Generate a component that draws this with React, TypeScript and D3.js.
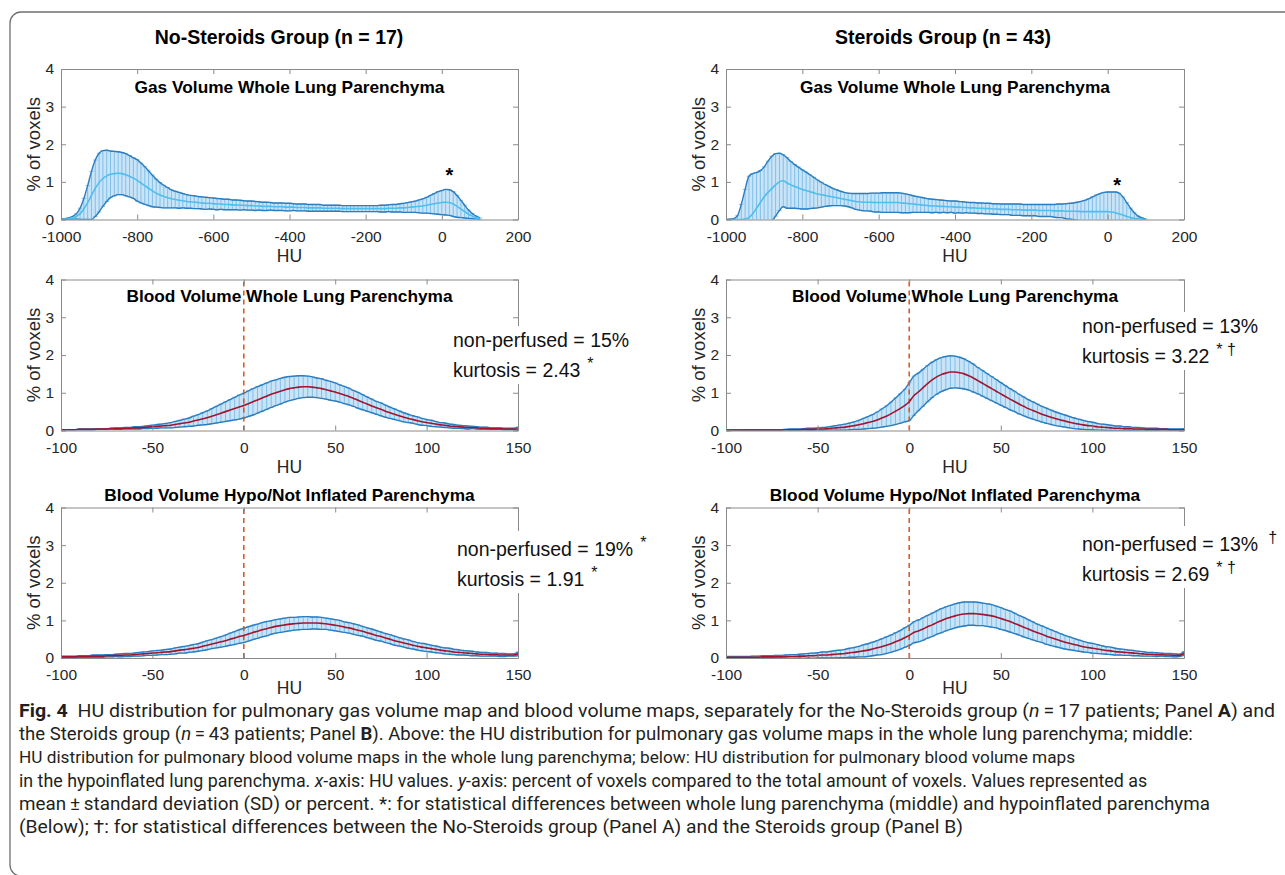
import React, { useRef, useEffect } from 'react'
import * as d3 from 'd3'

// HU sample grids
const gasHU = d3.range(-1000, 101, 10)
const bloodHU = d3.range(-100, 150.1, 2.5)

// gas volume, whole lung (mean and SD, % of voxels)
const gasMeanA = [
  0.0, 0.01, 0.02, 0.04, 0.08, 0.15, 0.28, 0.45, 0.64, 0.83,
  0.98, 1.09, 1.16, 1.2, 1.22, 1.23, 1.22, 1.19, 1.15, 1.1,
  1.04, 0.97, 0.9, 0.83, 0.76, 0.7, 0.65, 0.61, 0.58, 0.55,
  0.53, 0.51, 0.5, 0.48, 0.47, 0.46, 0.45, 0.44, 0.43, 0.43,
  0.42, 0.41, 0.41, 0.4, 0.4, 0.39, 0.39, 0.38, 0.38, 0.37,
  0.37, 0.36, 0.36, 0.35, 0.35, 0.35, 0.34, 0.34, 0.34, 0.33,
  0.33, 0.33, 0.32, 0.32, 0.32, 0.31, 0.31, 0.31, 0.31, 0.3,
  0.3, 0.3, 0.3, 0.3, 0.29, 0.29, 0.29, 0.29, 0.29, 0.29,
  0.29, 0.29, 0.29, 0.29, 0.29, 0.29, 0.3, 0.3, 0.3, 0.31,
  0.31, 0.32, 0.33, 0.34, 0.35, 0.36, 0.38, 0.4, 0.42, 0.44,
  0.45, 0.46, 0.45, 0.41, 0.35, 0.28, 0.21, 0.14, 0.09, 0.05, 0.02,
]
const gasSdA = [
  0.0, 0.01, 0.02, 0.04, 0.07, 0.15, 0.28, 0.45, 0.64, 0.75,
  0.78, 0.74, 0.68, 0.62, 0.59, 0.57, 0.56, 0.56, 0.55, 0.54,
  0.55, 0.53, 0.5, 0.46, 0.42, 0.37, 0.33, 0.3, 0.27, 0.24,
  0.22, 0.21, 0.19, 0.18, 0.17, 0.17, 0.16, 0.16, 0.16, 0.15,
  0.15, 0.15, 0.14, 0.14, 0.14, 0.13, 0.13, 0.13, 0.12, 0.12,
  0.12, 0.12, 0.11, 0.11, 0.11, 0.1, 0.1, 0.1, 0.1, 0.1,
  0.1, 0.09, 0.09, 0.09, 0.09, 0.09, 0.09, 0.09, 0.09, 0.08,
  0.08, 0.08, 0.08, 0.08, 0.08, 0.08, 0.08, 0.08, 0.08, 0.08,
  0.08, 0.08, 0.08, 0.08, 0.09, 0.09, 0.09, 0.1, 0.1, 0.11,
  0.12, 0.13, 0.14, 0.15, 0.17, 0.19, 0.21, 0.24, 0.27, 0.3,
  0.32, 0.34, 0.34, 0.33, 0.29, 0.23, 0.17, 0.11, 0.07, 0.04, 0.02,
]
const gasMeanB = [
  0.0, 0.0, 0.0, 0.0, 0.0, 0.01, 0.05, 0.15, 0.3, 0.45,
  0.6, 0.72, 0.82, 0.92, 1.0, 1.03, 0.97, 0.92, 0.88, 0.84,
  0.8, 0.77, 0.74, 0.71, 0.68, 0.66, 0.64, 0.62, 0.6, 0.58,
  0.56, 0.54, 0.52, 0.5, 0.48, 0.47, 0.46, 0.46, 0.46, 0.45,
  0.45, 0.45, 0.45, 0.45, 0.45, 0.45, 0.44, 0.43, 0.42, 0.41,
  0.4, 0.39, 0.38, 0.37, 0.36, 0.36, 0.35, 0.35, 0.34, 0.34,
  0.33, 0.33, 0.32, 0.32, 0.31, 0.31, 0.3, 0.3, 0.29, 0.29,
  0.28, 0.28, 0.27, 0.27, 0.27, 0.26, 0.26, 0.26, 0.25, 0.25,
  0.25, 0.25, 0.24, 0.24, 0.24, 0.24, 0.23, 0.23, 0.23, 0.22,
  0.22, 0.22, 0.22, 0.21, 0.21, 0.21, 0.21, 0.21, 0.21, 0.21,
  0.21, 0.2, 0.18, 0.15, 0.12, 0.08, 0.05, 0.03, 0.02, 0.01, 0.0,
]
const gasSdB = [
  0.0, 0.01, 0.02, 0.1, 0.4, 0.79, 1.1, 1.07, 0.95, 0.85,
  0.8, 0.83, 0.86, 0.83, 0.76, 0.69, 0.67, 0.62, 0.58, 0.55,
  0.52, 0.49, 0.45, 0.41, 0.37, 0.33, 0.29, 0.26, 0.23, 0.21,
  0.19, 0.18, 0.18, 0.19, 0.21, 0.22, 0.23, 0.23, 0.24, 0.25,
  0.25, 0.26, 0.26, 0.26, 0.26, 0.26, 0.26, 0.25, 0.24, 0.22,
  0.21, 0.2, 0.19, 0.18, 0.18, 0.17, 0.17, 0.16, 0.16, 0.15,
  0.16, 0.15, 0.15, 0.14, 0.14, 0.14, 0.14, 0.14, 0.14, 0.14,
  0.14, 0.14, 0.14, 0.14, 0.14, 0.15, 0.15, 0.15, 0.15, 0.15,
  0.15, 0.15, 0.16, 0.16, 0.16, 0.16, 0.17, 0.18, 0.18, 0.2,
  0.21, 0.22, 0.24, 0.27, 0.3, 0.34, 0.39, 0.44, 0.48, 0.51,
  0.52, 0.53, 0.55, 0.55, 0.48, 0.37, 0.25, 0.15, 0.07, 0.03, 0.01,
]

// blood volume, whole lung
const bloodMeanA = [
  0.02, 0.02, 0.02, 0.02, 0.03, 0.03, 0.03, 0.03, 0.04, 0.04,
  0.04, 0.05, 0.05, 0.05, 0.06, 0.06, 0.07, 0.07, 0.08, 0.09,
  0.1, 0.11, 0.12, 0.13, 0.14, 0.16, 0.18, 0.2, 0.22, 0.25,
  0.28, 0.31, 0.34, 0.38, 0.42, 0.46, 0.5, 0.54, 0.58, 0.62,
  0.66, 0.71, 0.76, 0.81, 0.86, 0.91, 0.96, 1.0, 1.04, 1.08,
  1.11, 1.13, 1.15, 1.16, 1.16, 1.15, 1.13, 1.11, 1.08, 1.05,
  1.02, 0.98, 0.94, 0.9, 0.85, 0.8, 0.75, 0.7, 0.65, 0.6,
  0.56, 0.51, 0.47, 0.43, 0.39, 0.35, 0.32, 0.29, 0.26, 0.23,
  0.21, 0.19, 0.17, 0.15, 0.14, 0.12, 0.11, 0.1, 0.09, 0.08,
  0.08, 0.07, 0.06, 0.06, 0.05, 0.05, 0.05, 0.04, 0.04, 0.04,
  0.04,
]
const bloodSdA = [
  0.0, 0.0, 0.0, 0.0, 0.01, 0.01, 0.01, 0.01, 0.01, 0.01,
  0.01, 0.01, 0.02, 0.02, 0.02, 0.02, 0.03, 0.03, 0.03, 0.04,
  0.04, 0.05, 0.05, 0.06, 0.07, 0.08, 0.09, 0.1, 0.11, 0.13,
  0.14, 0.16, 0.18, 0.2, 0.22, 0.24, 0.26, 0.28, 0.3, 0.32,
  0.33, 0.34, 0.35, 0.35, 0.35, 0.35, 0.35, 0.34, 0.34, 0.33,
  0.32, 0.31, 0.3, 0.29, 0.28, 0.27, 0.26, 0.26, 0.25, 0.25,
  0.24, 0.23, 0.23, 0.22, 0.21, 0.21, 0.2, 0.19, 0.18, 0.17,
  0.17, 0.16, 0.15, 0.14, 0.13, 0.12, 0.11, 0.1, 0.1, 0.09,
  0.08, 0.08, 0.07, 0.06, 0.06, 0.05, 0.05, 0.04, 0.04, 0.04,
  0.03, 0.03, 0.03, 0.03, 0.02, 0.02, 0.02, 0.02, 0.02, 0.02,
  0.05,
]
const bloodMeanB = [
  0.01, 0.01, 0.01, 0.01, 0.01, 0.01, 0.01, 0.01, 0.01, 0.01,
  0.01, 0.01, 0.01, 0.02, 0.02, 0.02, 0.02, 0.03, 0.03, 0.03,
  0.04, 0.04, 0.05, 0.06, 0.07, 0.08, 0.09, 0.11, 0.13, 0.15,
  0.18, 0.21, 0.24, 0.28, 0.33, 0.38, 0.44, 0.51, 0.58, 0.66,
  0.76, 0.92, 1.02, 1.13, 1.24, 1.34, 1.42, 1.48, 1.52, 1.55,
  1.55, 1.53, 1.5, 1.45, 1.39, 1.32, 1.25, 1.18, 1.11, 1.04,
  0.97, 0.9, 0.83, 0.77, 0.7, 0.64, 0.58, 0.53, 0.48, 0.43,
  0.39, 0.35, 0.31, 0.28, 0.25, 0.22, 0.19, 0.17, 0.15, 0.13,
  0.12, 0.1, 0.09, 0.08, 0.07, 0.06, 0.06, 0.05, 0.05, 0.04,
  0.04, 0.04, 0.03, 0.03, 0.03, 0.03, 0.03, 0.02, 0.02, 0.02,
  0.02,
]
const bloodSdB = [
  0.0, 0.0, 0.0, 0.0, 0.01, 0.01, 0.01, 0.01, 0.01, 0.01,
  0.01, 0.01, 0.01, 0.01, 0.02, 0.02, 0.02, 0.02, 0.03, 0.03,
  0.03, 0.04, 0.04, 0.05, 0.06, 0.07, 0.08, 0.09, 0.1, 0.12,
  0.14, 0.16, 0.18, 0.21, 0.24, 0.27, 0.31, 0.35, 0.39, 0.43,
  0.5, 0.52, 0.5, 0.49, 0.48, 0.47, 0.46, 0.45, 0.44, 0.43,
  0.42, 0.41, 0.4, 0.38, 0.37, 0.35, 0.34, 0.33, 0.32, 0.31,
  0.3, 0.29, 0.28, 0.27, 0.26, 0.25, 0.24, 0.23, 0.22, 0.21,
  0.2, 0.19, 0.18, 0.17, 0.16, 0.15, 0.14, 0.13, 0.12, 0.11,
  0.1, 0.09, 0.08, 0.08, 0.07, 0.06, 0.06, 0.05, 0.05, 0.04,
  0.04, 0.03, 0.03, 0.03, 0.03, 0.02, 0.02, 0.02, 0.02, 0.02,
  0.03,
]

// blood volume, hypo/not inflated parenchyma
const hypoMeanA = [
  0.03, 0.03, 0.03, 0.03, 0.04, 0.04, 0.04, 0.05, 0.05, 0.05,
  0.06, 0.06, 0.07, 0.07, 0.08, 0.08, 0.09, 0.1, 0.11, 0.12,
  0.13, 0.14, 0.15, 0.16, 0.17, 0.19, 0.21, 0.22, 0.24, 0.26,
  0.28, 0.31, 0.34, 0.37, 0.4, 0.43, 0.46, 0.5, 0.53, 0.57,
  0.6, 0.64, 0.68, 0.71, 0.75, 0.78, 0.81, 0.84, 0.86, 0.88,
  0.9, 0.91, 0.92, 0.93, 0.93, 0.93, 0.93, 0.92, 0.91, 0.89,
  0.87, 0.85, 0.82, 0.8, 0.77, 0.74, 0.71, 0.67, 0.64, 0.6,
  0.57, 0.53, 0.5, 0.46, 0.43, 0.4, 0.37, 0.34, 0.31, 0.29,
  0.27, 0.25, 0.23, 0.21, 0.19, 0.18, 0.16, 0.15, 0.14, 0.13,
  0.12, 0.11, 0.1, 0.1, 0.09, 0.09, 0.08, 0.08, 0.08, 0.08,
  0.11,
]
const hypoSdA = [
  0.02, 0.02, 0.02, 0.02, 0.02, 0.02, 0.02, 0.03, 0.03, 0.03,
  0.03, 0.03, 0.03, 0.04, 0.04, 0.04, 0.04, 0.05, 0.05, 0.05,
  0.06, 0.06, 0.06, 0.07, 0.07, 0.08, 0.08, 0.09, 0.09, 0.1,
  0.1, 0.11, 0.12, 0.12, 0.13, 0.14, 0.15, 0.16, 0.17, 0.18,
  0.19, 0.19, 0.19, 0.19, 0.19, 0.19, 0.18, 0.18, 0.18, 0.18,
  0.18, 0.17, 0.17, 0.17, 0.17, 0.16, 0.16, 0.16, 0.15, 0.15,
  0.15, 0.15, 0.14, 0.14, 0.14, 0.14, 0.13, 0.13, 0.13, 0.13,
  0.12, 0.12, 0.12, 0.12, 0.11, 0.11, 0.11, 0.1, 0.1, 0.1,
  0.1, 0.09, 0.09, 0.08, 0.08, 0.08, 0.07, 0.07, 0.06, 0.06,
  0.06, 0.05, 0.05, 0.05, 0.04, 0.04, 0.04, 0.04, 0.03, 0.03,
  0.05,
]
const hypoMeanB = [
  0.02, 0.02, 0.02, 0.02, 0.02, 0.02, 0.02, 0.02, 0.03, 0.03,
  0.03, 0.03, 0.03, 0.04, 0.04, 0.04, 0.05, 0.05, 0.06, 0.06,
  0.07, 0.08, 0.08, 0.09, 0.1, 0.11, 0.12, 0.14, 0.15, 0.17,
  0.19, 0.21, 0.24, 0.27, 0.3, 0.34, 0.38, 0.43, 0.48, 0.54,
  0.6, 0.68, 0.72, 0.77, 0.83, 0.88, 0.94, 0.99, 1.04, 1.08,
  1.12, 1.15, 1.17, 1.18, 1.18, 1.17, 1.16, 1.14, 1.12, 1.09,
  1.05, 1.01, 0.97, 0.92, 0.87, 0.82, 0.77, 0.72, 0.67, 0.63,
  0.58, 0.54, 0.5, 0.46, 0.42, 0.39, 0.36, 0.33, 0.3, 0.28,
  0.26, 0.24, 0.22, 0.2, 0.19, 0.17, 0.16, 0.15, 0.14, 0.13,
  0.12, 0.11, 0.1, 0.1, 0.09, 0.09, 0.08, 0.08, 0.07, 0.07,
  0.12,
]
const hypoSdB = [
  0.02, 0.02, 0.02, 0.02, 0.02, 0.02, 0.03, 0.03, 0.03, 0.03,
  0.03, 0.04, 0.04, 0.04, 0.05, 0.05, 0.05, 0.06, 0.06, 0.07,
  0.07, 0.08, 0.08, 0.09, 0.1, 0.1, 0.11, 0.12, 0.13, 0.14,
  0.16, 0.17, 0.18, 0.19, 0.21, 0.22, 0.23, 0.24, 0.25, 0.26,
  0.27, 0.28, 0.29, 0.3, 0.3, 0.31, 0.31, 0.32, 0.32, 0.32,
  0.32, 0.32, 0.32, 0.31, 0.31, 0.31, 0.3, 0.3, 0.3, 0.29,
  0.29, 0.28, 0.28, 0.27, 0.26, 0.26, 0.25, 0.24, 0.23, 0.22,
  0.22, 0.21, 0.2, 0.19, 0.18, 0.17, 0.16, 0.15, 0.14, 0.13,
  0.13, 0.12, 0.11, 0.1, 0.1, 0.09, 0.08, 0.08, 0.07, 0.07,
  0.06, 0.06, 0.05, 0.05, 0.05, 0.04, 0.04, 0.04, 0.04, 0.03,
  0.05,
]

const gasTicks = [-1000, -800, -600, -400, -200, 0, 200]
const bloodTicks = [-100, -50, 0, 50, 100, 150]
const yTicks = [0, 1, 2, 3, 4]

const groupTitles = ['No-Steroids Group (n = 17)', 'Steroids Group (n = 43)']
const panelTitles = [
  'Gas Volume Whole Lung Parenchyma',
  'Blood Volume Whole Lung Parenchyma',
  'Blood Volume Hypo/Not Inflated Parenchyma',
]
// significance star above the gas peak: [HU, % of voxels]
const starPoints = [[20, 1.3], [25, 1.05]]

// annotation lines: [text, superscript]
const notes = [
  [['non-perfused = 15%', ''], ['kurtosis = 2.43', '*']],
  [['non-perfused = 13%', ''], ['kurtosis = 3.22', '* \u2020']],
  [['non-perfused = 19%', '*'], ['kurtosis = 1.91', '*']],
  [['non-perfused = 13%', '\u2020'], ['kurtosis = 2.69', '* \u2020']],
]

// caption: [text, style] segments per line
const captionLines = [
  [['Fig. 4', 'b'], ['  HU distribution for pulmonary gas volume map and blood volume maps, separately for the No-Steroids group (', ''], ['n', 'i'], ['\u2009=\u200917 patients; Panel ', ''], ['A', 'b'], [') and', '']],
  [['the Steroids group (', ''], ['n', 'i'], ['\u2009=\u200943 patients; Panel ', ''], ['B', 'b'], ['). Above: the HU distribution for pulmonary gas volume maps in the whole lung parenchyma; middle:', '']],
  [['HU distribution for pulmonary blood volume maps in the whole lung parenchyma; below: HU distribution for pulmonary blood volume maps', '']],
  [['in the hypoinflated lung parenchyma. ', ''], ['x', 'i'], ['-axis: HU values. ', ''], ['y', 'i'], ['-axis: percent of voxels compared to the total amount of voxels. Values represented as', '']],
  [['mean\u2009\u00b1\u2009standard deviation (SD) or percent. *: for statistical differences between whole lung parenchyma (middle) and hypoinflated parenchyma', '']],
  [['(Below); \u2020: for statistical differences between the No-Steroids group (Panel A) and the Steroids group (Panel B)', '']],
]

export default function App() {
  const ref = useRef<SVGSVGElement>(null)

  useEffect(() => {
    const svg = d3.select(ref.current)
    svg.selectAll('*').remove()

    const font = '"Liberation Sans", Arial, Helvetica, sans-serif'
    const cols = [
      { x0: 61, x1: 518, mid: 279 },
      { x0: 726, x1: 1184, mid: 943 },
    ]
    const rows = [
      { top: 69, bottom: 219.5, hu: 42 },
      { top: 279.5, bottom: 430.5, hu: 42 },
      { top: 507.5, bottom: 658, hu: 36 },
    ]
    const titleY = [93, 302, 501]
    const notePos = [
      { x: 453, y: 347 },
      { x: 1082, y: 333 },
      { x: 457, y: 556 },
      { x: 1082, y: 551 },
    ]

    const panels = [
      { col: 0, row: 0, hu: gasHU, mean: gasMeanA, sd: gasSdA, domain: [-1000, 200], ticks: gasTicks, color: '#4DBEEE', star: starPoints[0] },
      { col: 1, row: 0, hu: gasHU, mean: gasMeanB, sd: gasSdB, domain: [-1000, 200], ticks: gasTicks, color: '#4DBEEE', star: starPoints[1] },
      { col: 0, row: 1, hu: bloodHU, mean: bloodMeanA, sd: bloodSdA, domain: [-100, 150], ticks: bloodTicks, color: '#A2142F', note: 0 },
      { col: 1, row: 1, hu: bloodHU, mean: bloodMeanB, sd: bloodSdB, domain: [-100, 150], ticks: bloodTicks, color: '#A2142F', note: 1 },
      { col: 0, row: 2, hu: bloodHU, mean: hypoMeanA, sd: hypoSdA, domain: [-100, 150], ticks: bloodTicks, color: '#A2142F', note: 2 },
      { col: 1, row: 2, hu: bloodHU, mean: hypoMeanB, sd: hypoSdB, domain: [-100, 150], ticks: bloodTicks, color: '#A2142F', note: 3 },
    ]

    // figure frame
    svg
      .append('rect')
      .attr('x', 10)
      .attr('y', 12)
      .attr('width', 1300)
      .attr('height', 864)
      .attr('rx', 11)
      .attr('fill', 'none')
      .attr('stroke', '#707070')
      .attr('stroke-width', 1.3)

    // group titles
    groupTitles.forEach((t, i) => {
      svg
        .append('text')
        .attr('x', cols[i].mid)
        .attr('y', 43.5)
        .attr('text-anchor', 'middle')
        .attr('font-family', font)
        .attr('font-weight', 'bold')
        .attr('font-size', 19.5)
        .attr('fill', '#000')
        .text(t)
    })

    panels.forEach((p: any, i) => {
      const c = cols[p.col]
      const r = rows[p.row]
      const x = d3.scaleLinear().domain(p.domain).range([c.x0, c.x1])
      const y = d3.scaleLinear().domain([0, 4]).range([r.bottom, r.top])
      const pts = p.hu.map((h: number, j: number) => ({ h, m: p.mean[j], s: p.sd[j] }))

      svg
        .append('clipPath')
        .attr('id', `clip${i}`)
        .append('rect')
        .attr('x', c.x0)
        .attr('y', r.top)
        .attr('width', c.x1 - c.x0)
        .attr('height', r.bottom - r.top)

      const plot = svg.append('g').attr('clip-path', `url(#clip${i})`)

      // light band under the dense error bars
      plot
        .append('path')
        .datum(pts)
        .attr('fill', '#c9e4f7')
        .attr(
          'd',
          d3
            .area<any>()
            .x((d) => x(d.h))
            .y0((d) => y(d.m - d.s))
            .y1((d) => y(d.m + d.s))
            .curve(d3.curveMonotoneX)
        )

      // error bars
      const bars = plot.append('g').attr('stroke', '#80bfe9').attr('stroke-width', 1)
      bars
        .selectAll('line.bar')
        .data(pts)
        .join('line')
        .attr('class', 'bar')
        .attr('x1', (d: any) => x(d.h))
        .attr('x2', (d: any) => x(d.h))
        .attr('y1', (d: any) => y(d.m - d.s))
        .attr('y2', (d: any) => y(d.m + d.s))
      ;['top', 'bot'].forEach((k) => {
        bars
          .selectAll(`line.cap-${k}`)
          .data(pts)
          .join('line')
          .attr('class', `cap-${k}`)
          .attr('x1', (d: any) => x(d.h) - 2.2)
          .attr('x2', (d: any) => x(d.h) + 2.2)
          .attr('y1', (d: any) => y(k === 'top' ? d.m + d.s : d.m - d.s))
          .attr('y2', (d: any) => y(k === 'top' ? d.m + d.s : d.m - d.s))
      })

      // mean +/- SD envelopes
      const upper = d3
        .line<any>()
        .x((d) => x(d.h))
        .y((d) => y(d.m + d.s))
        .curve(d3.curveMonotoneX)
      const lower = d3
        .line<any>()
        .x((d) => x(d.h))
        .y((d) => y(d.m - d.s))
        .curve(d3.curveMonotoneX)
      ;[upper, lower].forEach((gen) => {
        plot
          .append('path')
          .datum(pts)
          .attr('fill', 'none')
          .attr('stroke', '#2b7dc0')
          .attr('stroke-width', 1.4)
          .attr('d', gen)
      })

      // HU = 0 reference line
      if (p.note !== undefined) {
        plot
          .append('line')
          .attr('x1', x(0))
          .attr('x2', x(0))
          .attr('y1', y(0))
          .attr('y2', y(4))
          .attr('stroke', '#D95319')
          .attr('stroke-width', 1.5)
          .attr('stroke-dasharray', '5,4')
      }

      // mean line
      plot
        .append('path')
        .datum(pts)
        .attr('fill', 'none')
        .attr('stroke', p.color)
        .attr('stroke-width', 1.6)
        .attr(
          'd',
          d3
            .line<any>()
            .x((d) => x(d.h))
            .y((d) => y(d.m))
            .curve(d3.curveMonotoneX)
        )

      // axes box with inward ticks
      const styleAxis = (g: any) => {
        g.attr('font-family', font).attr('font-size', 15.5)
        g.selectAll('.domain, .tick line').attr('stroke', '#8a8a8a').attr('stroke-width', 1)
        g.selectAll('text').attr('fill', '#262626')
      }
      const fmt = (d: any) => String(d)
      svg
        .append('g')
        .attr('transform', `translate(0,${r.bottom})`)
        .call(d3.axisBottom(x).tickValues(p.ticks).tickFormat(fmt).tickSizeInner(-5).tickSizeOuter(0).tickPadding(11))
        .call(styleAxis)
      svg
        .append('g')
        .attr('transform', `translate(0,${r.top})`)
        .call(d3.axisTop(x).tickValues(p.ticks).tickFormat(() => '').tickSizeInner(-5).tickSizeOuter(0))
        .call(styleAxis)
      svg
        .append('g')
        .attr('transform', `translate(${c.x0},0)`)
        .call(d3.axisLeft(y).tickValues(yTicks).tickFormat(fmt).tickSizeInner(-5).tickSizeOuter(0).tickPadding(7))
        .call(styleAxis)
      svg
        .append('g')
        .attr('transform', `translate(${c.x1},0)`)
        .call(d3.axisRight(y).tickValues(yTicks).tickFormat(() => '').tickSizeInner(-5).tickSizeOuter(0))
        .call(styleAxis)

      // axis labels
      svg
        .append('text')
        .attr('x', (c.x0 + c.x1) / 2)
        .attr('y', r.bottom + r.hu)
        .attr('text-anchor', 'middle')
        .attr('font-family', font)
        .attr('font-size', 17.5)
        .attr('fill', '#262626')
        .text('HU')
      svg
        .append('text')
        .attr('transform', `translate(${c.x0 - 21},${(r.top + r.bottom) / 2}) rotate(-90)`)
        .attr('text-anchor', 'middle')
        .attr('font-family', font)
        .attr('font-size', 18.5)
        .attr('fill', '#262626')
        .text('% of voxels')

      // panel title
      svg
        .append('text')
        .attr('x', (c.x0 + c.x1) / 2)
        .attr('y', titleY[p.row])
        .attr('text-anchor', 'middle')
        .attr('font-family', font)
        .attr('font-weight', 'bold')
        .attr('font-size', 17.3)
        .attr('fill', '#000')
        .text(panelTitles[p.row])

      if (p.star) {
        svg
          .append('text')
          .attr('x', x(p.star[0]))
          .attr('y', y(p.star[1]))
          .attr('dy', '0.58em')
          .attr('text-anchor', 'middle')
          .attr('font-family', font)
          .attr('font-weight', 'bold')
          .attr('font-size', 20)
          .attr('fill', '#000')
          .text('*')
      }

      if (p.note !== undefined) {
        const pos = notePos[p.note]
        const ng = svg.append('g')
        const bg = ng.append('rect').attr('fill', '#fff')
        notes[p.note].forEach((ln, k) => {
          const t = ng
            .append('text')
            .attr('x', pos.x)
            .attr('y', pos.y + k * 30)
            .attr('font-family', font)
            .attr('font-size', 19.5)
            .attr('fill', '#111')
          t.append('tspan').text(ln[0])
          if (ln[1]) {
            t.append('tspan')
              .attr('dx', ln[1] === '\u2020' ? 10 : 7)
              .attr('dy', -8)
              .attr('font-size', 16)
              .text(ln[1])
          }
        })
        const bb = (ng.node() as SVGGElement).getBBox()
        bg.attr('x', bb.x - 4)
          .attr('y', bb.y - 3)
          .attr('width', bb.width + 8)
          .attr('height', bb.height + 6)
      }
    })

    // caption: shrink a line that runs too long, stretch one that is short
    const capWidths = [1256, 1174, 1057, 1129, 1191, 944]
    const capSize = 18.6
    captionLines.forEach((segs, i) => {
      const t = svg
        .append('text')
        .attr('x', 19)
        .attr('y', 717 + i * 23.2)
        .attr('font-family', 'Roboto, "Noto Sans", sans-serif')
        .attr('font-size', capSize)
        .attr('fill', '#231f20')
        .style('white-space', 'pre')
      segs.forEach(([s, st]) => {
        const ts = t.append('tspan').text(s)
        if (st === 'b') ts.attr('font-weight', 'bold')
        if (st === 'i') ts.attr('font-style', 'italic')
      })
      const natural = (t.node() as SVGTextElement).getComputedTextLength()
      if (natural > capWidths[i]) {
        t.attr('font-size', (capSize * capWidths[i]) / natural)
      } else {
        t.attr('textLength', capWidths[i]).attr('lengthAdjust', 'spacingAndGlyphs')
      }
    })
  }, [])

  return (
    <svg
      ref={ref}
      width={1285}
      height={875}
      style={{ position: 'absolute', left: 0, top: 0, background: '#fff' }}
    ></svg>
  )
}
